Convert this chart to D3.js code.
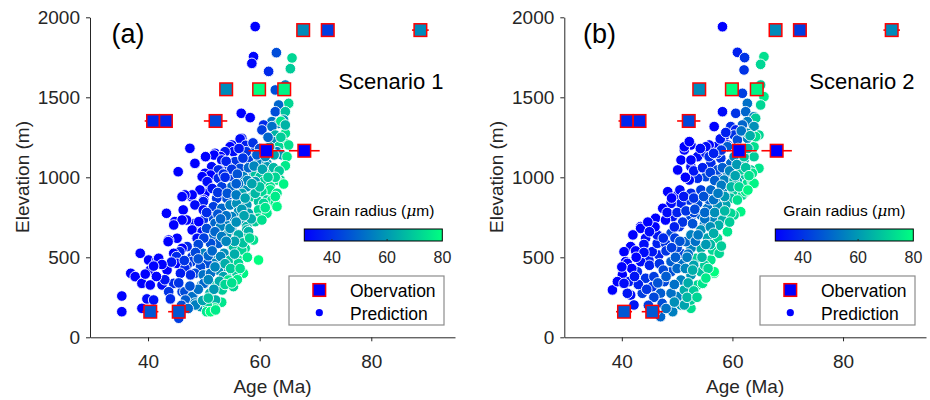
<!DOCTYPE html>
<html>
<head>
<meta charset="utf-8">
<script src="https://cdn.jsdelivr.net/npm/d3@7/dist/d3.min.js"></script>
<style>
  body { margin: 0; background: #fff; }
  svg { font-family: "Liberation Sans", Arial, sans-serif; }
</style>
</head>
<body>
<svg id="chart" width="930" height="400"></svg>
<script>
// tick values
var xTicks = [40, 60, 80],
    yTicks = [0, 500, 1000, 1500, 2000],
    cbTicks = [40, 60, 80];

// observations: age (Ma), elevation (m), age error (Ma), grain radius (um)
var obsAge    = [67.8, 72.2, 88.8, 54.0, 59.9, 64.4, 40.9, 43.2, 52.1, 61.2, 68.0, 40.4, 45.5];
var obsElev   = [1920, 1920, 1920, 1550, 1550, 1550, 1352, 1352, 1352, 1166, 1166, 160, 160];
var obsErr    = [0.6, 0.6, 1.5, 0.8, 0.8, 0.8, 1.5, 1.0, 2.1, 3.2, 2.75, 1.45, 1.9];
var obsRadius = [57, 42, 57, 57, 80, 78, 37, 37, 44, 30, 30, 47, 47];

// predictions [age, elevation, grain radius]
var predScenario1 = [
  [59.2,1942,30],[58.9,1754,31],[58.6,1712,31],[63.0,1779,45],[61.6,1662,38],[65.8,1746,72],
  [65.5,1679,70],[64.6,1577,55],[62.8,1546,45],[65.2,1462,72],[63.4,1452,50],[62.8,1410,45],
  [64.6,1410,68],[64.3,1358,60],[62.2,1348,52],[56.7,1400,30],[58.3,1373,30],[60.7,1327,38],
  [63.4,1337,58],[63.8,1350,75],[62.2,1317,52],[60.4,1296,42],[62.8,1264,65],[64.6,1275,74],
  [64.6,1327,65],[62.5,1223,58],[64.6,1212,75],[65.2,1202,74],[63.4,1192,72],[63.1,1160,55],
  [64.0,1140,60],[64.9,1129,75],[56.8,1244,34],[56.5,1240,32],[55.0,1202,32],[54.7,1191,30],
  [58.6,1160,45],[55.3,1160,32],[53.8,1160,34],[52.0,1150,32],[53.0,1129,30],[51.8,1139,30],
  [50.3,1129,30],[47.5,1181,30],[48.4,1087,30],[45.4,1035,30],[53.2,1108,33],[55.6,1098,40],
  [58.0,1108,42],[59.8,1087,55],[61.3,1087,58],[61.3,1066,60],[64.6,1072,76],[56.5,1056,44],
  [54.4,1066,40],[51.4,1066,32],[52.8,1046,30],[52.6,1046,38],[50.2,1025,30],[51.2,1014,30],
  [49.7,1004,30],[52.6,994,38],[55.0,1004,42],[57.1,1004,55],[58.9,1025,58],[59.2,1025,68],
  [60.4,1025,65],[62.2,1025,70],[60.1,1004,68],[63.7,983,72],[63.1,983,75],[60.7,973,70],
  [59.2,973,60],[64.3,958,78],[61.9,941,74],[57.7,941,58],[55.0,941,50],[53.2,941,42],
  [50.8,962,32],[50.6,973,32],[61.9,921,76],[60.4,910,72],[63.1,900,75],[58.6,879,70],
  [56.8,900,62],[54.1,869,45],[52.3,869,40],[50.2,900,30],[49.3,921,30],[47.8,879,30],
  [47.9,890,30],[46.6,890,30],[46.1,879,30],[50.0,858,30],[49.9,848,35],[48.4,827,32],
  [51.7,816,42],[53.2,806,50],[54.7,827,55],[55.9,837,58],[57.7,827,60],[59.8,848,68],
  [61.3,858,70],[62.2,858,75],[62.8,837,76],[60.7,837,72],[63.1,817,78],[61.3,785,75],
  [59.8,796,72],[58.0,775,62],[56.2,785,58],[55.0,754,55],[51.4,754,45],[49.9,796,32],
  [46.3,796,30],[43.3,775,30],[59.8,744,72],[61.3,775,76],[59.2,723,70],[60.4,733,74],
  [56.8,733,60],[57.7,692,65],[55.0,692,55],[53.8,712,55],[52.0,712,50],[49.9,733,38],
  [48.4,712,33],[46.9,733,30],[44.8,723,30],[46.1,733,30],[49.1,723,30],[47.9,671,30],
  [49.7,660,32],[44.6,702,30],[53.0,692,55],[55.0,671,58],[57.7,671,65],[51.8,640,50],
  [54.1,640,60],[58.0,660,65],[54.7,681,58],[48.7,619,42],[48.8,619,32],[45.2,619,30],
  [43.7,608,30],[43.6,598,30],[57.1,619,70],[58.9,608,74],[52.6,587,48],[51.2,587,45],
  [55.0,577,60],[55.3,567,68],[57.4,556,72],[56.8,546,72],[47.0,567,38],[46.1,556,30],
  [45.7,535,36],[44.6,525,30],[38.6,525,30],[53.6,525,58],[49.9,525,55],[45.1,504,38],
  [47.9,504,40],[40.1,483,30],[41.6,483,31],[41.9,494,30],[52.4,483,55],[54.7,483,68],
  [56.2,483,76],[59.8,483,80],[47.8,473,42],[51.7,462,55],[50.6,462,45],[56.2,462,72],
  [45.2,462,30],[47.0,452,40],[49.4,441,44],[43.3,431,32],[46.6,431,38],[53.2,431,58],
  [40.4,420,30],[43.4,420,30],[52.6,420,58],[36.9,400,30],[48.4,400,44],[49.9,390,52],
  [47.6,390,38],[45.8,400,35],[51.2,400,52],[55.3,400,75],[57.1,400,78],[55.9,400,70],
  [54.1,379,65],[53.5,379,62],[37.7,379,30],[54.4,358,75],[38.9,337,30],[40.4,327,30],
  [42.5,327,32],[49.6,327,56],[52.0,327,70],[50.0,337,50],[44.6,337,38],[55.3,317,72],
  [53.3,296,70],[43.7,285,40],[46.1,285,42],[46.6,285,45],[51.1,275,65],[48.1,264,52],
  [47.9,254,52],[35.3,258,30],[39.8,240,32],[41.0,233,33],[46.7,233,48],[48.4,214,55],
  [53.2,219,75],[52.1,233,65],[52.0,183,78],[49.4,192,60],[50.6,202,72],[48.5,202,55],
  [38.9,181,30],[35.3,160,30],[50.5,160,75],[51.2,160,80],[52.1,171,76],[45.5,119,42],
  [57.5,1200,36],[58.8,1215,40],[60.0,1180,45],[61.8,1190,60],[57.6,1160,40],[56.3,1180,34],
  [59.5,1140,48],[62.6,1140,62],[61.0,1130,56],[57.0,1120,40],[63.8,1250,70],[61.5,1250,50],
  [54.0,1100,36],[55.0,1050,40],[56.0,1020,46],[58.0,1060,50],[59.0,1070,56],[60.5,1050,62],
  [62.5,1060,66],[63.5,1040,70],[62.8,1000,72],[61.5,1000,70],[53.5,1020,38],[57.8,980,56],
  [56.2,960,52],[51.5,930,34],[52.5,905,40],[54.2,900,46],[55.8,890,54],[57.4,870,62],
  [59.2,900,66],[60.0,940,68],[62.8,880,76],[58.6,960,62],[55.8,960,48],[53.8,1000,38],
  [50.5,780,38],[52.5,770,46],[54.0,760,52],[56.8,800,60],[58.5,740,64],[57.2,760,62],
  [55.8,720,58],[53.0,740,50],[61.0,810,75],[50.5,680,44],[52.0,660,50],[53.2,630,54],
  [56.2,640,64],[57.0,590,68],[55.5,600,62],[54.0,600,56],[50.0,620,42],[49.0,580,44],
  [58.2,620,72],[48.5,530,44],[50.8,510,50],[51.5,540,50],[53.0,505,56],[55.5,520,64],
  [57.8,500,76],[46.5,480,40],[49.0,490,46],[53.8,460,64],[52.0,440,56],[54.8,430,70],
  [56.5,430,74],[44.2,470,34],[42.5,455,30],[41.0,445,30],[50.8,360,56],[52.8,350,64],
  [51.8,300,60],[49.0,300,52],[47.5,320,46],[45.5,340,40],[43.0,360,34],[41.5,380,30],
  [39.5,395,30],[53.8,330,72],[56.0,360,76],[55.0,340,74],[44.0,240,38],[46.0,200,45],
  [47.2,180,50],[49.8,230,62],[50.8,245,68]
];

var predScenario2 = [
  [58.2,1941,30],[60.9,1781,36],[62.2,1748,40],[62.1,1671,40],[65.7,1754,74],[65.1,1706,72],
  [65.1,1577,70],[61.8,1525,42],[65.7,1504,76],[65.1,1452,72],[62.7,1462,52],[58.2,1410,32],
  [60.6,1400,40],[62.4,1410,50],[63.9,1379,56],[64.2,1369,70],[62.7,1348,55],[56.7,1317,30],
  [59.7,1317,38],[61.8,1327,50],[63.9,1317,58],[60.6,1296,36],[64.8,1264,72],[62.7,1244,55],
  [60.3,1264,40],[58.5,1254,34],[59.1,1202,36],[57.0,1192,32],[55.8,1202,30],[52.5,1202,30],
  [51.3,1171,30],[50.7,1108,30],[50.1,1046,30],[52.5,1066,32],[53.7,1129,32],[55.2,1150,34],
  [56.1,1087,38],[57.9,1119,40],[59.7,1087,50],[62.1,1108,64],[63.9,1129,70],[64.8,1056,75],
  [63.3,1046,70],[61.8,1014,68],[60.9,973,64],[62.7,962,74],[63.6,973,76],[59.1,1025,55],
  [57.3,1004,50],[55.2,1004,44],[53.7,994,38],[52.2,983,32],[50.1,889,30],[48.3,910,30],
  [50.5,921,32],[52.5,900,38],[54.3,921,42],[56.1,921,50],[58.2,921,55],[60.3,910,70],
  [61.8,889,72],[59.7,869,68],[58.8,827,62],[61.5,785,78],[60.3,764,72],[57.3,827,58],
  [55.5,806,52],[53.7,837,45],[52.2,858,40],[50.7,837,36],[48.9,837,32],[47.4,806,30],
  [49.2,754,33],[46.1,744,30],[47.9,733,30],[52.5,754,44],[54.3,764,50],[56.7,733,56],
  [58.2,733,64],[54.9,702,55],[43.4,692,30],[50.4,692,40],[41.6,567,30],[40.4,535,30],
  [40.7,473,30],[40.1,390,30],[38.3,296,30],[39.2,348,30],[41.3,348,34],[41.6,264,32],
  [42.2,202,34],[42.8,410,38],[44.3,369,40],[45.8,379,42],[43.7,275,42],[45.5,316,40],
  [47.0,275,48],[47.0,129,50],[49.2,160,55],[50.7,202,60],[52.5,181,74],[50.1,254,55],
  [51.3,296,64],[53.7,327,72],[54.6,337,75],[56.7,400,78],[54.3,410,68],[52.5,390,60],
  [50.7,358,55],[48.9,410,45],[48.9,473,48],[51.0,473,52],[53.4,494,70],[56.1,483,75],
  [56.4,546,72],[54.3,556,64],[52.5,556,55],[51.6,598,50],[50.7,525,44],[46.7,514,36],
  [44.9,483,34],[43.4,473,32],[45.5,535,34],[46.4,587,36],[47.9,587,40],[48.9,650,44],
  [52.5,640,55],[54.3,671,58],[57.3,619,72],[59.1,660,75],[43.4,681,30],[44.3,619,32],
  [46.4,640,34],[51.3,1191,30],[52.2,1223,30],[52.5,1108,31],[55.2,1191,32],[55.8,1129,38],
  [57.3,1150,40],[59.1,1191,48],[60.3,1129,55],[62.1,1129,68],[63.9,1191,74],[64.2,1254,74],
  [62.7,1275,60],[60.9,1233,45],[57.3,1046,44],[58.5,983,55],[60.3,983,65],[61.5,1046,70],
  [63.6,1025,75],[63.9,962,78],[62.4,910,76],[60.9,858,74],[59.7,775,72],[57.6,525,72],
  [56.7,410,80],[52.5,233,70],[51.3,202,62],[47.3,212,45],[48.9,275,52],[47.7,348,44],
  [41.0,275,34],[40.4,337,32],[41.0,462,30],[55.8,860,48],[57.0,870,55],[53.0,780,44],
  [55.0,740,52],[51.0,720,40],[49.5,690,36],[53.3,600,52],[55.5,620,62],[56.0,580,66],
  [50.0,560,44],[48.0,540,40],[52.0,520,52],[50.0,430,50],[53.0,450,62],[55.0,450,70],
  [51.5,430,56],
  [57.8,1240,34],[58.8,1280,36],[61.6,1290,52],[63.2,1260,64],[61.0,1180,58],[62.8,1180,66],
  [58.0,1170,40],[56.6,1150,36],[54.2,1180,32],[53.0,1040,34],[54.6,1060,36],[56.0,1030,42],
  [58.2,1060,48],[59.5,1040,56],[60.8,1080,60],[62.4,1060,68],[63.0,1010,74],[60.5,1010,62],
  [56.8,980,48],[58.0,950,54],[51.5,1000,30],[49.0,870,30],[51.2,880,34],[53.0,870,40],
  [54.8,880,46],[56.6,860,52],[58.6,880,60],[59.8,940,66],[61.2,940,72],[62.8,920,78],
  [57.4,900,54],[48.2,780,32],[50.0,780,36],[51.6,790,40],[53.2,800,44],[55.0,780,50],
  [56.8,780,58],[58.6,790,66],[59.5,720,70],[57.5,700,64],[56.0,690,58],[52.8,710,46],
  [46.0,690,30],[44.7,720,30],[42.0,640,30],[45.0,660,32],[47.5,620,38],[49.6,620,42],
  [50.5,600,46],[53.8,640,54],[56.6,650,64],[58.0,570,70],[55.2,580,60],[49.0,560,42],
  [44.0,580,32],[42.5,540,30],[44.0,530,32],[45.0,450,36],[46.8,460,40],[47.5,420,44],
  [49.7,500,48],[51.8,500,54],[54.5,500,66],[55.6,430,72],[52.8,420,64],[41.8,430,30],
  [42.6,500,30],[40.0,440,30],[43.0,330,36],[44.5,300,40],[46.5,340,46],[48.0,380,48],
  [49.5,330,52],[52.0,340,64],[53.0,290,70],[55.2,370,76],[42.3,380,34],[45.8,250,44],
  [44.8,200,42],[48.0,180,52],[49.5,220,58],[51.8,250,66],[53.6,250,72],[46.0,160,46]
];

var svg = d3.select("#chart");
var ink = "#262626";

var color = d3.scaleLinear()
    .domain([30, 80])
    .range(["rgb(0,0,255)", "rgb(0,255,128)"])
    .clamp(true);

// horizontal gradient for the colorbars
var grad = svg.append("defs").append("linearGradient")
    .attr("id", "winter").attr("x1", "0%").attr("x2", "100%");
grad.append("stop").attr("offset", "0%").attr("stop-color", color(30));
grad.append("stop").attr("offset", "100%").attr("stop-color", color(80));

drawPanel({x0: 90, x1: 455, tagX: 111.5, tag: "(a)", title: "Scenario 1", pred: predScenario1});
drawPanel({x0: 564.3, x1: 926, tagX: 583, tag: "(b)", title: "Scenario 2", pred: predScenario2});

function drawPanel(p) {
  var x = d3.scaleLinear().domain([29.6, 95]).range([p.x0, p.x1]),
      y = d3.scaleLinear().domain([0, 2000]).range([337.3, 17.3]);

  var g = svg.append("g");

  // axes (box off, ticks out)
  var xAxis = g.append("g")
      .attr("transform", "translate(0,337.3)")
      .call(d3.axisBottom(x).tickValues(xTicks).tickFormat(d3.format("d"))
        .tickSize(4).tickSizeOuter(0).tickPadding(13));
  var yAxis = g.append("g")
      .attr("transform", "translate(" + p.x0 + ",0)")
      .call(d3.axisLeft(y).tickValues(yTicks).tickFormat(d3.format("d"))
        .tickSize(4).tickSizeOuter(0).tickPadding(6));
  [xAxis, yAxis].forEach(function(a) {
    a.select(".domain").attr("stroke", ink);
    a.selectAll(".tick line").attr("stroke", ink);
    a.selectAll(".tick text").attr("fill", ink).style("font-size", "19px")
      .style("font-family", "Liberation Sans, Arial, sans-serif");
  });

  g.append("text")
      .attr("x", (p.x0 + p.x1) / 2).attr("y", 393)
      .attr("text-anchor", "middle").attr("fill", ink).style("font-size", "19px")
      .text("Age (Ma)");
  g.append("text")
      .attr("transform", "translate(" + (p.x0 - 61) + ",177) rotate(-90)")
      .attr("text-anchor", "middle").attr("fill", ink).style("font-size", "19px")
      .text("Elevation (m)");

  // predictions
  g.append("g").selectAll("circle")
      .data(p.pred)
      .enter().append("circle")
      .attr("cx", function(d) { return x(d[0]); })
      .attr("cy", function(d) { return y(d[1]); })
      .attr("r", 5.3)
      .attr("fill", function(d) { return color(d[2]); })
      .attr("stroke", "#fff")
      .attr("stroke-width", 0.9);

  // observations with horizontal error bars
  var obs = obsAge.map(function(a, i) {
    return {age: a, elev: obsElev[i], err: obsErr[i], r: obsRadius[i]};
  });
  g.append("g").selectAll("line")
      .data(obs)
      .enter().append("line")
      .attr("x1", function(d) { return x(d.age - d.err); })
      .attr("x2", function(d) { return x(d.age + d.err); })
      .attr("y1", function(d) { return y(d.elev); })
      .attr("y2", function(d) { return y(d.elev); })
      .attr("stroke", "#ff0000").attr("stroke-width", 1.6);
  g.append("g").selectAll("rect")
      .data(obs)
      .enter().append("rect")
      .attr("x", function(d) { return x(d.age) - 6.3; })
      .attr("y", function(d) { return y(d.elev) - 6.3; })
      .attr("width", 12.6).attr("height", 12.6)
      .attr("fill", function(d) { return color(d.r); })
      .attr("stroke", "#ff0000").attr("stroke-width", 1.5);

  // panel tag and scenario title
  g.append("text")
      .attr("x", p.tagX).attr("y", 43)
      .attr("fill", "#000").style("font-size", "27px")
      .text(p.tag);
  g.append("text")
      .attr("x", p.x1 - 116.7).attr("y", 89)
      .attr("fill", "#000").style("font-size", "22px")
      .text(p.title);

  // colorbar
  var cb = d3.scaleLinear().domain([30, 80]).range([p.x1 - 150.7, p.x1 - 12.7]);
  var cbg = g.append("g");
  cbg.append("rect")
      .attr("x", cb(30)).attr("y", 229)
      .attr("width", cb(80) - cb(30)).attr("height", 12)
      .attr("fill", "url(#winter)")
      .attr("stroke", "#000").attr("stroke-width", 1);
  cbg.selectAll("line.cbtick")
      .data(cbTicks.slice(0, 2))
      .enter().append("line")
      .attr("class", "cbtick")
      .attr("x1", function(d) { return cb(d); }).attr("x2", function(d) { return cb(d); })
      .attr("y1", 241).attr("y2", 239)
      .attr("stroke", ink).attr("stroke-width", 1);
  cbg.selectAll("text.cblab")
      .data(cbTicks)
      .enter().append("text")
      .attr("class", "cblab")
      .attr("x", function(d) { return cb(d); }).attr("y", 263)
      .attr("text-anchor", function(d) { return d === 80 ? "end" : "middle"; })
      .attr("dx", function(d) { return d === 80 ? 9 : 0; })
      .attr("fill", ink).style("font-size", "16px")
      .text(function(d) { return d; });
  var cbt = cbg.append("text")
      .attr("x", (cb(30) + cb(80)) / 2).attr("y", 216)
      .attr("text-anchor", "middle").attr("fill", "#000").style("font-size", "15.5px");
  cbt.append("tspan").text("Grain radius (");
  cbt.append("tspan").style("font-style", "italic").style("font-family", "DejaVu Serif, serif").text("\u03BC");
  cbt.append("tspan").text("m)");

  // legend
  var lx = p.x1 - 166;
  var lg = g.append("g");
  lg.append("rect")
      .attr("x", lx).attr("y", 276).attr("width", 155).attr("height", 49)
      .attr("fill", "#fff").attr("stroke", "#8c8c8c").attr("stroke-width", 1.2);
  lg.append("rect")
      .attr("x", lx + 30.3 - 6.3).attr("y", 290 - 6.3).attr("width", 12.6).attr("height", 12.6)
      .attr("fill", color(30)).attr("stroke", "#ff0000").attr("stroke-width", 1.5);
  lg.append("circle")
      .attr("cx", lx + 30.3).attr("cy", 312.7).attr("r", 3.6)
      .attr("fill", color(30));
  lg.append("text").attr("x", lx + 61).attr("y", 296.5)
      .attr("fill", "#000").style("font-size", "17.5px").text("Obervation");
  lg.append("text").attr("x", lx + 61).attr("y", 319.5)
      .attr("fill", "#000").style("font-size", "17.5px").text("Prediction");
}
</script>
</body>
</html>
